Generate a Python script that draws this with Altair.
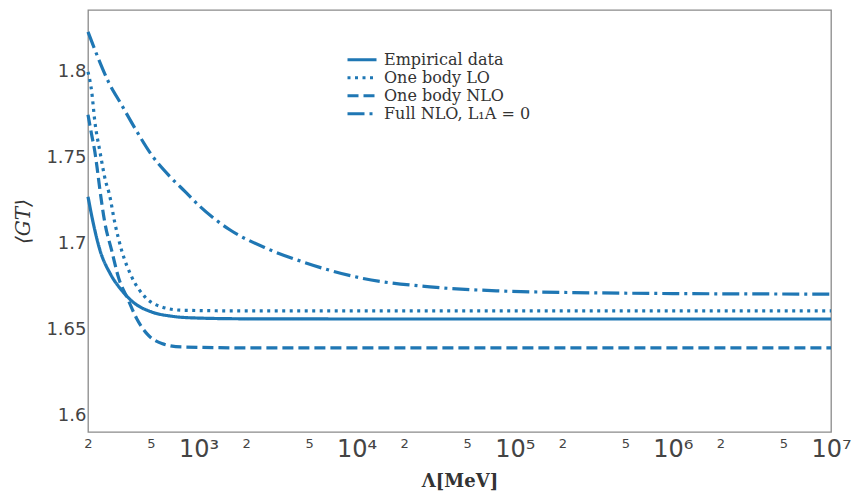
import altair as alt
import pandas as pd

series_names = ["Empirical data", "One body LO", "One body NLO", "Full NLO, L₁A = 0"]

emp_x = [200, 216, 238, 276, 326, 396, 505, 677, 948, 2000, 10000, 1e7]
emp_y = [1.7273, 1.7118, 1.6962, 1.6826, 1.6729, 1.6651, 1.6602, 1.6577, 1.6567, 1.6562, 1.6561, 1.6561]

lo_x = [200, 211, 221, 238, 259, 272, 296, 326, 378, 458, 586, 784, 2000, 10000, 1e7]
lo_y = [1.8000, 1.7885, 1.7710, 1.7535, 1.7360, 1.7293, 1.7118, 1.6962, 1.6806, 1.6690, 1.6631, 1.6612, 1.6608, 1.6608, 1.6608]

nlo_x = [200, 211, 221, 230, 238, 256, 282, 311, 360, 406, 471, 586, 784, 2000, 10000, 1e7]
nlo_y = [1.7750, 1.7633, 1.7535, 1.7419, 1.7312, 1.7118, 1.6962, 1.6806, 1.6670, 1.6564, 1.6476, 1.6418, 1.6398, 1.6393, 1.6393, 1.6393]

full_x = [200, 232, 269, 326, 396, 505, 660, 820, 1024, 1585, 2694, 4190, 11000, 29100, 76600, 331000, 1e6, 1e7]
full_y = [1.8233, 1.8080, 1.7943, 1.7808, 1.7672, 1.7516, 1.7390, 1.7304, 1.7215, 1.7079, 1.6972, 1.6905, 1.6797, 1.6748, 1.6725, 1.6713, 1.6709, 1.6706]

x_ticks = [200, 500, 1000, 2000, 5000, 10000, 20000, 50000, 100000, 200000,
           500000, 1000000, 2000000, 5000000, 10000000]
y_ticks = [1.6, 1.65, 1.7, 1.75, 1.8]

dashes = [[1, 0], [3, 4.5], [11, 5], [17, 5, 3, 5]]
line_color = "#1f77b4"

rows = []
for name, xs, ys in zip(series_names, [emp_x, lo_x, nlo_x, full_x], [emp_y, lo_y, nlo_y, full_y]):
    for i, (xv, yv) in enumerate(zip(xs, ys)):
        rows.append({"series": name, "x": xv, "y": yv, "order": i})
df = pd.DataFrame(rows)

is_pow = "abs(log(datum.value)/LN10 - round(log(datum.value)/LN10)) < 1e-6"
label_expr = (
    f"({is_pow}) ? '10' + ['⁰','¹','²','³','⁴','⁵','⁶','⁷'][round(log(datum.value)/LN10)]"
    " : format(floor(datum.value / pow(10, floor(log(datum.value)/LN10 + 1e-9)) + 0.5), 'd')"
)

chart = alt.Chart(df).mark_line(
    color=line_color, strokeWidth=3.2, interpolate="monotone", strokeCap="butt"
).encode(
    x=alt.X("x:Q",
            scale=alt.Scale(type="log", domain=[200, 1e7], nice=False),
            axis=alt.Axis(
                values=x_ticks, labelExpr=label_expr, grid=False, ticks=False, domain=False,
                labelFont="DejaVu Sans", labelColor="#444444",
                labelFontSize={"condition": {"test": is_pow, "value": 24}, "value": 13},
                labelBaseline="top", labelPadding=5, labelOverlap=False, labelFlush=False,
                title="Λ[MeV]", titleFont="DejaVu Serif", titleFontWeight="bold",
                titleFontSize=18, titleColor="#333333", titleBaseline="middle",
                titleY=49, titleAnchor="middle")),
    y=alt.Y("y:Q",
            scale=alt.Scale(domain=[1.5903, 1.836], nice=False, zero=False),
            axis=alt.Axis(
                values=y_ticks, format="~g", grid=False, ticks=False, domain=False,
                labelFont="DejaVu Sans", labelFontSize=18, labelColor="#444444",
                labelPadding=2,
                title="⟨GT⟩", titleFont="DejaVu Serif", titleFontStyle="italic",
                titleFontWeight="normal", titleFontSize=20, titleColor="#333333",
                titleAngle=-90, titleBaseline="middle", titleAlign="center",
                titleX=-65, titleY=211)),
    strokeDash=alt.StrokeDash(
        "series:N",
        scale=alt.Scale(domain=series_names, range=dashes),
        legend=alt.Legend(
            title=None, orient="none", legendX=258, legendY=41,
            symbolType="stroke", symbolSize=841, symbolStrokeWidth=3,
            symbolStrokeColor=line_color, labelFont="DejaVu Serif",
            labelFontSize=16, labelColor="#333333", rowPadding=0, clipHeight=17.5,
            labelOffset=6)),
    order="order:Q",
).properties(
    width=743, height=422,
    padding={"left": 88, "top": 10, "right": 25, "bottom": 65},
    autosize=alt.AutoSizeParams(type="none"),
    background="white",
).configure_view(
    stroke="#8a8a8a", strokeWidth=1.3
)

chart.save("out.html", embed_options={"renderer": "svg", "actions": False})
